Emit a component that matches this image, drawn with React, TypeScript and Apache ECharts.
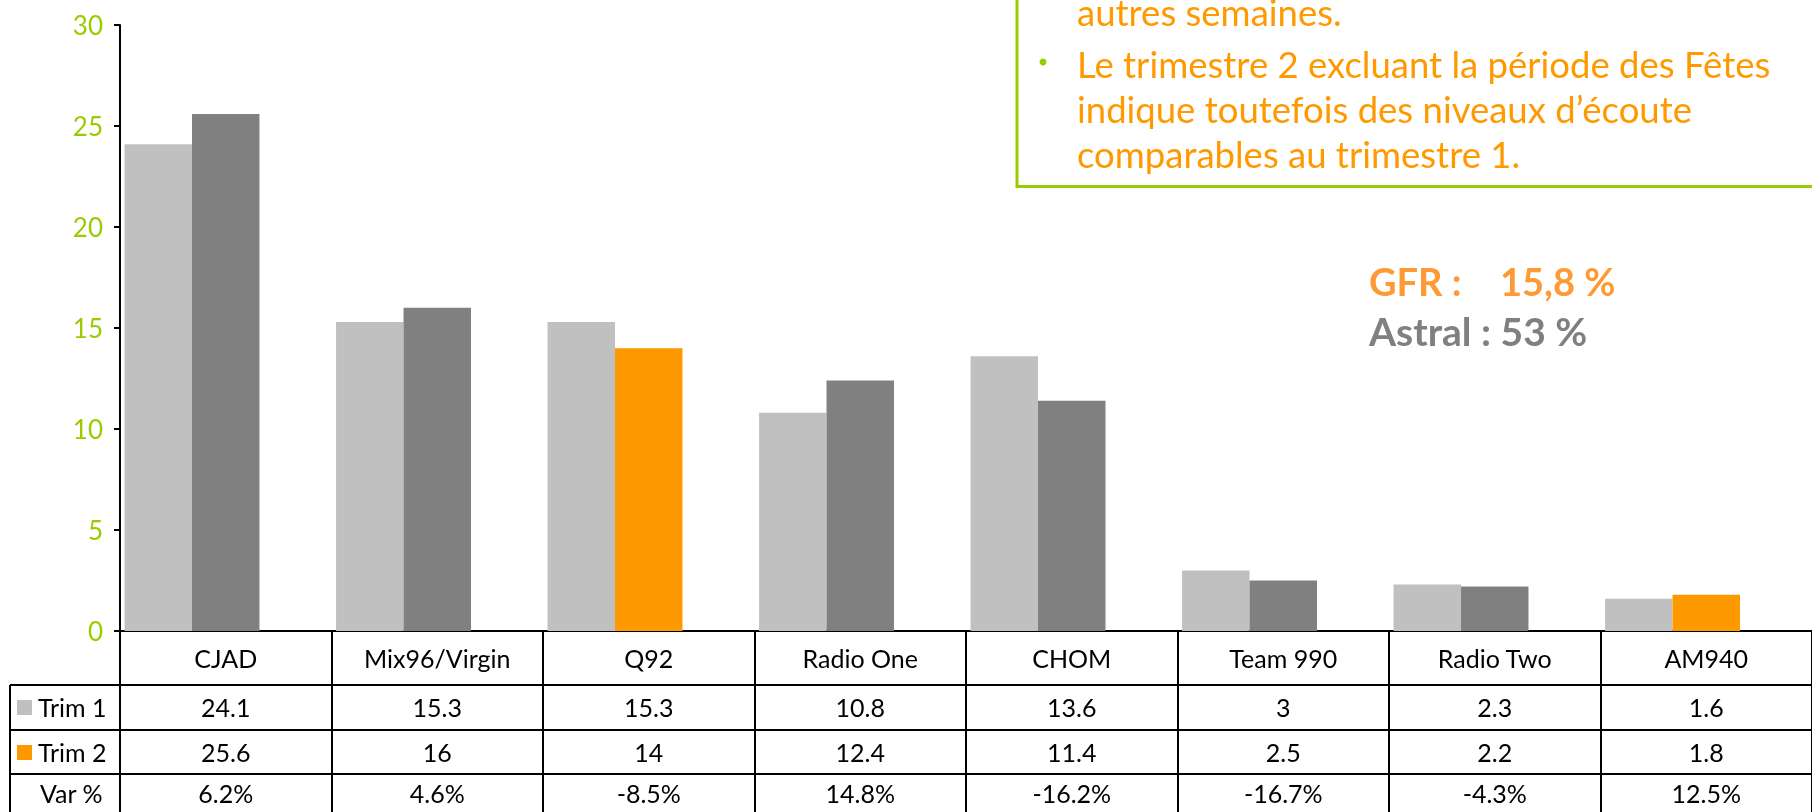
import React, { useEffect, useRef } from "react";
import * as echarts from "echarts";

const categories = ["CJAD", "Mix96/Virgin", "Q92", "Radio One", "CHOM", "Team 990", "Radio Two", "AM940"];
const trim1 = [24.1, 15.3, 15.3, 10.8, 13.6, 3, 2.3, 1.6];
const trim2 = [25.6, 16, 14, 12.4, 11.4, 2.5, 2.2, 1.8];
const varPct = ["6.2%", "4.6%", "-8.5%", "14.8%", "-16.2%", "-16.7%", "-4.3%", "12.5%"];
const gfrStations = ["Q92", "AM940"];
const seriesNames = ["Trim 1", "Trim 2"];
const rowLabelVar = "Var %";
const yMin = 0;
const yMax = 30;
const yInterval = 5;
const noteLines = [
  "autres semaines.",
  "Le trimestre 2 excluant la période des Fêtes",
  "indique toutefois des niveaux d’écoute",
  "comparables au trimestre 1.",
];
const gfrLabel = "GFR :";
const gfrValue = "15,8 %";
const astralText = "Astral : 53 %";

const FONT = "Lato, 'Open Sans', sans-serif";
const GREEN = "#99CC00";
const ORANGE = "#FF9900";
const LIGHT = "#C0C0C0";
const DARK = "#808080";

export default function App() {
  const ref = useRef<HTMLDivElement>(null);
  useEffect(() => {
    if (!ref.current) return;
    const chart = echarts.init(ref.current, undefined, { renderer: "svg" });
    const rowAxis = (offset: number, values: (string | number)[]) => ({
      type: "category",
      data: categories,
      position: "bottom",
      offset,
      axisLine: { show: false },
      axisTick: { show: false },
      axisLabel: {
        interval: 0,
        margin: 0,
        verticalAlign: "middle",
        fontSize: 25,
        color: "#000",
        fontFamily: FONT,
        formatter: (_v: string, i: number) => String(values[i]),
      },
    });
    const legendItem = (name: string, color: string, cy: number) => [
      { type: "rect", shape: { x: 17, y: cy - 7, width: 15, height: 15 }, style: { fill: color } },
      {
        type: "text",
        x: 38,
        y: cy,
        style: { text: name, fontSize: 25, fill: "#000", fontFamily: FONT, verticalAlign: "middle", align: "left" },
      },
    ];
    chart.setOption({
      animation: false,
      grid: { left: 120, right: 0, top: 25, bottom: 181, containLabel: false },
      xAxis: [
        {
          type: "category",
          data: categories,
          position: "bottom",
          axisLine: { lineStyle: { color: "#000", width: 2 } },
          axisTick: { show: true, interval: 0, length: 181, lineStyle: { color: "#000", width: 2 } },
          axisLabel: {
            interval: 0,
            margin: 27,
            verticalAlign: "middle",
            fontSize: 25,
            color: "#000",
            fontFamily: FONT,
          },
        },
        rowAxis(76, trim1),
        rowAxis(121, trim2),
        rowAxis(162, varPct),
      ],
      yAxis: {
        type: "value",
        min: yMin,
        max: yMax,
        interval: yInterval,
        splitLine: { show: false },
        axisLine: { show: true, lineStyle: { color: "#000", width: 2 } },
        axisTick: { show: true, length: 6, lineStyle: { color: "#000", width: 2 } },
        axisLabel: { fontSize: 26, color: GREEN, margin: 17, fontFamily: FONT },
      },
      series: [
        {
          name: seriesNames[0],
          type: "bar",
          data: trim1,
          itemStyle: { color: LIGHT },
          barGap: "0%",
          barCategoryGap: "4.3%",
        },
        {
          name: seriesNames[1],
          type: "bar",
          data: trim2.map((v, i) => ({
            value: v,
            itemStyle: { color: gfrStations.includes(categories[i]) ? ORANGE : DARK },
          })),
          itemStyle: { color: ORANGE },
        },
        {
          name: "spacer",
          type: "bar",
          data: categories.map(() => "-"),
          silent: true,
        },
      ],
      graphic: [
        { type: "line", shape: { x1: 10, y1: 685, x2: 1812, y2: 685 }, style: { stroke: "#000", lineWidth: 2 } },
        { type: "line", shape: { x1: 10, y1: 730, x2: 1812, y2: 730 }, style: { stroke: "#000", lineWidth: 2 } },
        { type: "line", shape: { x1: 10, y1: 774, x2: 1812, y2: 774 }, style: { stroke: "#000", lineWidth: 2 } },
        { type: "line", shape: { x1: 10, y1: 685, x2: 10, y2: 812 }, style: { stroke: "#000", lineWidth: 2 } },
        ...legendItem(seriesNames[0], LIGHT, 707),
        ...legendItem(seriesNames[1], ORANGE, 752),
        {
          type: "text",
          x: 40,
          y: 793,
          style: { text: rowLabelVar, fontSize: 25, fill: "#000", fontFamily: FONT, verticalAlign: "middle", align: "left" },
        },
        {
          type: "rect",
          shape: { x: 1017, y: -20, width: 820, height: 206.5 },
          style: { fill: "#fff", stroke: GREEN, lineWidth: 3 },
        },
        { type: "circle", shape: { cx: 1043, cy: 62, r: 3.5 }, style: { fill: GREEN } },
        ...noteLines.map((t, i) => ({
          type: "text",
          x: 1077,
          y: [12, 64, 109, 154][i],
          style: { text: t, fontSize: 36.5, fill: ORANGE, fontFamily: FONT, verticalAlign: "middle", align: "left" },
        })),
        {
          type: "text",
          x: 1369,
          y: 281,
          style: { text: gfrLabel, fontSize: 38, fontWeight: "bold", fill: "#FF9933", fontFamily: FONT, verticalAlign: "middle" },
        },
        {
          type: "text",
          x: 1500,
          y: 281,
          style: { text: gfrValue, fontSize: 38, fontWeight: "bold", fill: "#FF9933", fontFamily: FONT, verticalAlign: "middle" },
        },
        {
          type: "text",
          x: 1369,
          y: 331,
          style: { text: astralText, fontSize: 39, fontWeight: "bold", fill: DARK, fontFamily: FONT, verticalAlign: "middle" },
        },
      ],
    });
    return () => chart.dispose();
  }, []);
  return <div ref={ref} style={{ position: "fixed", left: 0, top: 0, width: 1812, height: 812 }} />;
}
